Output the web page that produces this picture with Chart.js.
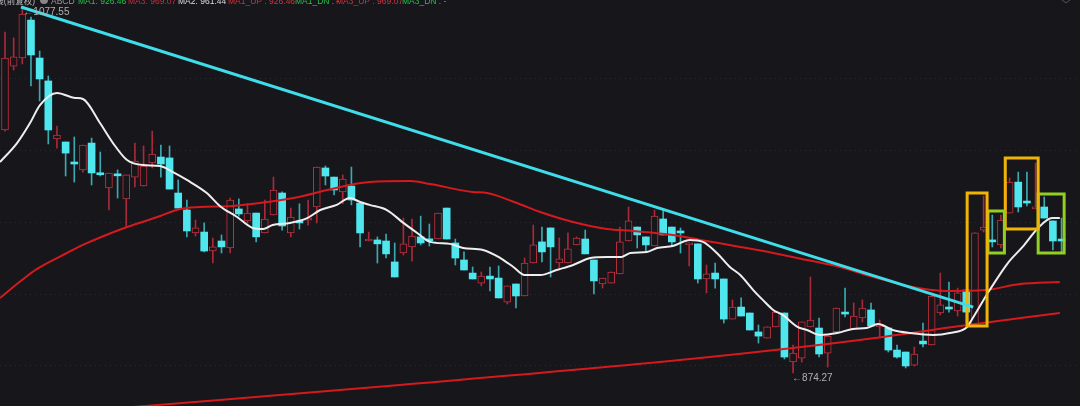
<!DOCTYPE html>
<html>
<head>
<meta charset="utf-8">
<script src="https://cdn.jsdelivr.net/npm/chart.js@4"></script>
<style>
  html, body { margin: 0; padding: 0; background: #16161b; overflow: hidden; }
  canvas { display: block; }
</style>
</head>
<body>
<canvas id="kChart" width="1080" height="406"></canvas>
<script>
// candles (price), candle n sits at x = n
const opens = [1010.0,1045.7,1050.2,1071.4,1050.2,1037.4,1005.0,1003.3,991.6,987.7,
  1002.7,985.4,977.6,984.9,971.5,983.7,978.7,991.6,994.9,994.4,
  974.8,965.3,952.5,953.0,942.4,948.0,944.1,965.9,959.2,963.6,
  952.5,962.5,974.8,952.5,958.6,959.7,967.0,988.8,983.7,975.4,
  978.7,969.2,948.0,948.6,948.0,936.3,941.3,944.7,950.3,948.6,
  949.1,966.4,946.9,937.4,930.1,924.5,928.4,927.3,913.9,924.0,
  917.3,935.7,947.5,955.3,935.7,935.7,945.8,949.1,937.4,924.0,
  924.5,929.6,948.0,955.8,950.3,945.2,960.3,955.8,953.0,945.8,
  946.4,926.8,930.1,926.8,904.4,911.1,907.8,897.2,893.8,900.0,
  907.8,880.4,882.6,900.0,899.4,885.4,897.2,908.3,898.9,905.0,
  909.5,900.0,899.4,887.1,886.0,878.7,892.1,889.9,907.8,911.1,
  908.9,920.6,900.5,954.1,948.0,945.8,963.6,980.9,969.8,965.9,
  967.0,959.2,948.6];
const highs = [1064.7,1061.4,1077.55,1073.1,1054.1,1040.2,1012.2,1003.3,1006.1,1001.6,
  1005.5,997.7,986.0,987.7,984.9,1002.7,1001.1,1009.4,1001.6,1001.1,
  982.1,970.9,959.7,958.1,949.7,951.4,972.0,971.5,968.8,963.6,
  970.9,983.7,975.4,966.4,968.8,970.9,989.3,989.9,983.7,984.9,
  989.3,969.2,953.0,950.3,951.9,946.9,960.8,960.3,961.9,957.5,
  963.6,966.4,949.1,941.9,933.5,930.7,933.5,934.1,922.9,924.0,
  938.5,956.9,955.8,955.3,949.7,952.5,950.3,954.1,937.4,927.3,
  930.7,955.8,967.0,955.8,950.3,965.3,965.3,955.8,955.3,946.9,
  946.4,934.6,935.7,926.8,915.1,916.2,907.8,901.1,900.0,908.3,
  907.8,889.9,902.8,927.9,905.0,894.9,910.6,921.7,913.4,915.1,
  913.4,903.9,899.4,889.9,886.0,888.8,902.2,917.3,930.1,925.1,
  921.7,920.6,952.5,973.1,962.5,962.5,983.2,986.5,986.5,991.6,
  972.6,959.2,960.8];
const lows = [1009.4,1043.5,1046.9,1034.6,1026.2,1002.2,999.9,984.3,980.9,986.5,
  979.3,984.3,965.3,972.0,955.8,978.2,978.7,988.8,983.7,977.0,
  966.4,950.3,950.8,941.9,935.7,941.3,941.3,961.9,958.1,947.5,
  952.5,962.5,954.1,950.3,954.7,956.9,958.1,979.3,973.7,968.8,
  968.2,944.7,948.0,935.7,938.5,927.9,940.2,936.8,945.8,945.2,
  949.1,949.1,934.6,931.8,926.8,922.9,920.1,916.2,912.8,910.6,
  917.3,935.7,936.3,927.9,931.8,935.7,945.8,940.8,918.4,921.7,
  924.5,929.6,948.0,944.1,942.4,945.2,951.4,945.2,941.3,934.1,
  924.5,919.0,921.7,902.2,904.4,906.1,898.3,891.0,893.8,900.0,
  882.1,874.27,880.4,900.0,883.2,877.6,897.2,905.6,898.9,902.8,
  900.5,894.4,886.0,882.6,877.1,878.2,888.8,889.9,906.7,908.3,
  906.1,902.2,900.5,953.0,944.7,944.1,963.6,964.2,967.6,965.9,
  960.8,943.0,941.9];
const closes = [1050.2,1050.8,1074.8,1051.9,1038.5,1010.0,1007.2,997.1,991.0,1001.6,
  986.0,985.0,986.0,984.4,984.9,992.7,989.9,996.6,991.0,977.0,
  966.4,953.6,955.3,942.4,944.7,944.7,970.9,963.1,963.6,950.3,
  960.3,976.5,956.4,961.4,958.1,960.8,989.3,984.3,976.5,982.6,
  970.9,952.5,948.4,946.4,940.8,927.9,946.4,950.8,946.9,948.1,
  963.6,949.1,938.5,931.8,926.8,928.4,926.8,916.2,922.9,917.3,
  935.7,945.8,941.9,944.7,938.0,943.6,949.7,940.8,925.7,927.3,
  930.7,947.5,959.2,951.4,945.8,961.9,951.4,947.5,952.5,946.2,
  926.8,929.6,926.8,904.4,911.1,906.1,898.3,894.9,900.0,908.3,
  883.2,885.4,902.8,903.9,884.9,894.9,910.6,907.2,906.1,910.6,
  900.5,901.1,887.1,883.2,878.2,884.9,890.5,917.3,912.3,910.0,
  919.0,908.3,952.5,955.8,947.5,959.7,980.9,967.0,969.2,967.0,
  960.8,948.0,948.0];

// white moving average
const maWhiteX = [0.42,2.39,3.89,5.04,7.0,9.08,10.0,11.97,13.47,15.09,16.94,18.9,20.4,22.0,24.3,25.8,27.8,29.6,30.8,31.9,
  33.9,35.9,37.4,39.3,40.8,42.0,43.1,45.1,47.0,48.6,50.1,52.4,53.9,56.2,58.2,59.7,61.0,62.8,64.7,66.6,
  68.6,70.5,72.2,73.2,75.1,76.3,78.1,80.1,81.6,83.2,84.7,85.9,87.4,88.5,89.7,90.8,92.5,93.6,95.1,97.1,
  98.9,100.5,101.8,103.5,105.5,108.2,110.1,112.1,112.4,114.7,116.8,118.5,120.3,121.9,122.8];
const maWhiteY = [992.1,1002.7,1013.9,1023.9,1030.7,1027.9,1027.3,1013.9,1002.7,993.2,990.4,989.9,986.5,982.1,974.8,967.6,961.4,955.3,954.7,956.9,
  958.1,960.8,965.3,968.2,972.0,969.8,968.2,965.3,958.1,952.5,947.5,946.4,944.1,943.0,938.5,933.5,929.0,929.0,931.8,934.6,
  938.5,939.1,939.1,941.3,941.9,944.1,945.2,948.6,947.5,941.3,933.5,929.0,920.6,915.1,909.5,906.7,900.0,898.3,895.5,896.6,
  898.9,899.4,901.6,898.3,896.6,895.5,896.6,900.0,902.2,920.6,935.7,944.7,955.3,960.8,960.8];

// upper red moving average
const maRedX = [0.42,2.96,4.7,8.16,10.0,15.1,18.6,21.2,23.5,27.3,30.4,34.3,38.2,40.8,43.1,47.8,50.1,55.0,56.7,60.1,
  62.8,66.6,70.5,73.5,78.1,81.3,85.9,89.7,93.6,97.4,100.9,105.8,109.8,114.2,118.2,122.8];
const maRedY = [916.2,926.2,932.4,941.3,945.8,955.8,961.4,965.9,967.0,967.6,969.2,972.0,976.5,979.3,980.9,981.5,979.8,975.4,974.8,969.2,
  964.2,958.6,954.7,953.6,951.4,948.6,944.7,941.3,937.4,933.5,928.4,922.3,920.1,920.6,924.0,925.1];

// lower red long average
const maLongX = [14.3,46.6,78.9,99.7,111.3,122.8];
const maLongY = [854.7,867.6,881.5,892.7,900.5,907.8];

// cyan trend line (two touch points)
const trendX = [2.85,112.8];
const trendY = [1078.7,911.1];

// marked boxes: left, right (candle units), top, bottom (price)
const boxX0 = [112.1,114.5,116.5,120.3];
const boxX1 = [114.4,116.4,120.3,123.3];
const boxHi = [974.8,964.8,994.4,974.3];
const boxLo = [900.5,941.3,954.7,941.3];
const boxKind = ['yellow','green','yellow','green'];

// dotted price levels
const gridLevels = [1039.0,998.8,958.6,918.4,878.2];

// header items
const headerText = ['K线(前复权)','ABCD','MA1: 926.46','MA3: 969.07','MA2: 961.44','MA1_UP : 926.46','MA1_DN : -','MA3_UP : 969.07','MA3_DN : -'];

const RED = '#c3303f';
const CYAN = '#4fe6ee';
const BG = '#16161b';
const boxColor = { yellow: '#f0b408', green: '#93cf1e' };

const isUp = i => closes[i] > opens[i];
const wickData = lows.map((l, i) => ({ x: i + 1, y: [l, highs[i]] }));
const bodyData = opens.map((o, i) => ({ x: i + 1, y: [o, closes[i]] }));
const pts = (xs, ys) => xs.map((x, i) => ({ x: x, y: ys[i] }));

function lineSet(data, color, width, smooth) {
  return {
    type: 'line', data: data, borderColor: color, borderWidth: width,
    pointRadius: 0, fill: false, order: 0,
    cubicInterpolationMode: smooth ? 'monotone' : 'default', tension: smooth ? 0.4 : 0
  };
}

const boxSets = boxX0.map((x0, i) => {
  const x1 = boxX1[i], hi = boxHi[i], lo = boxLo[i];
  const d = [{x:x0,y:hi},{x:x1,y:hi},{x:x1,y:lo},{x:x0,y:lo},{x:x0,y:hi},{x:x1,y:hi}];
  const s = lineSet(d, boxColor[boxKind[i]], 3, false);
  s.borderJoinStyle = 'miter';
  return s;
});

// background + texts
const decor = {
  id: 'decor',
  beforeDraw(chart) {
    const c = chart.ctx;
    c.save();
    c.fillStyle = BG;
    c.fillRect(0, 0, chart.width, chart.height);
    c.restore();
  },
  afterDraw(chart) {
    const c = chart.ctx;
    const xs = chart.scales.x, ys = chart.scales.y;
    c.save();
    // header row, cut by the top edge
    c.font = '8.5px "Liberation Sans", "Noto Sans CJK SC", sans-serif';
    c.textBaseline = 'alphabetic';
    const hx = [35, 51, 78, 128, 178, 228, 295, 336, 402];
    const hc = ['#bbbbbb', '#999999', '#27c04a', RED, '#dddddd', '#d8303a', '#27c04a', '#d8303a', '#27c04a'];
    headerText.forEach((t, i) => {
      c.fillStyle = hc[i];
      c.textAlign = i === 0 ? 'right' : 'left';
      c.fillText(t, hx[i], 4);
    });
    c.fillStyle = '#888888';
    c.beginPath(); c.arc(44, 0, 4, 0, Math.PI * 2); c.fill();
    c.strokeStyle = '#555'; c.lineWidth = 1;
    c.beginPath(); c.moveTo(1062, 0); c.lineTo(1066, 3); c.lineTo(1070, 0); c.stroke();

    // max / min labels
    c.font = '10px "Liberation Sans", sans-serif';
    c.fillStyle = '#b0b0b0';
    c.textAlign = 'left';
    c.textBaseline = 'middle';
    const hiIdx = highs.indexOf(Math.max(...highs));
    const loIdx = lows.indexOf(Math.min(...lows));
    c.fillText('←' + highs[hiIdx].toFixed(2), xs.getPixelForValue(hiIdx + 1) + 1, ys.getPixelForValue(highs[hiIdx]) + 3);
    c.fillText('←' + lows[loIdx].toFixed(2), xs.getPixelForValue(loIdx + 1) - 1, ys.getPixelForValue(lows[loIdx]) + 5);
    c.restore();
  }
};

new Chart(document.getElementById('kChart').getContext('2d'), {
  data: {
    datasets: [
      lineSet(pts(trendX, trendY), '#3fdcea', 3, false),
      ...boxSets,
      lineSet(pts(maWhiteX, maWhiteY), '#eeeeee', 2, true),
      lineSet(pts(maRedX, maRedY), '#d41a1e', 2, true),
      lineSet(pts(maLongX, maLongY), '#d41a1e', 2, true),
      {
        type: 'bar', data: bodyData, order: 1, grouped: false,
        barThickness: 7, minBarLength: 2, borderSkipped: false,
        backgroundColor: ctx => isUp(ctx.dataIndex) ? BG : CYAN,
        borderColor: ctx => isUp(ctx.dataIndex) ? RED : CYAN,
        borderWidth: ctx => isUp(ctx.dataIndex) ? 1 : 0
      },
      {
        type: 'bar', data: wickData, order: 2, grouped: false,
        barThickness: 1, borderSkipped: false, borderWidth: 0,
        backgroundColor: ctx => isUp(ctx.dataIndex) ? '#a82a3a' : '#3aaab2'
      }
    ]
  },
  options: {
    responsive: false,
    animation: false,
    devicePixelRatio: 1,
    layout: { padding: 0 },
    plugins: { legend: { display: false }, tooltip: { enabled: false } },
    scales: {
      x: { type: 'linear', min: 0.423, max: 125.13, display: false, offset: false },
      y: {
        type: 'linear', min: 855.85, max: 1082.6,
        ticks: { display: false },
        border: { display: false, dash: [1, 4] },
        grid: { color: '#2b2b34', lineWidth: 1, drawTicks: false, tickLength: 0 },
        afterBuildTicks: s => { s.ticks = gridLevels.map(v => ({ value: v })); },
        afterFit: s => { s.width = 0; }
      }
    }
  },
  plugins: [decor]
});
</script>
</body>
</html>
